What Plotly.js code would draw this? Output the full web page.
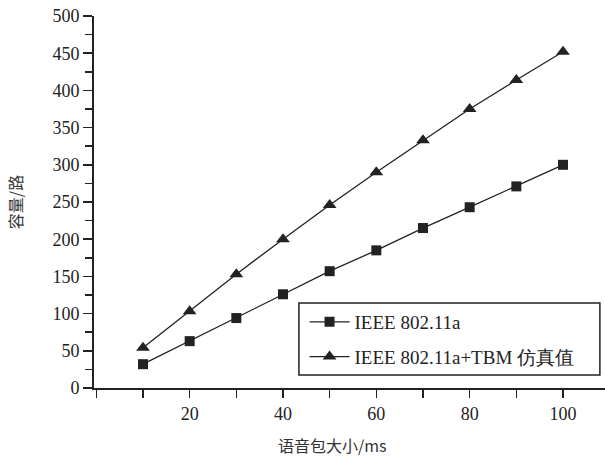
<!DOCTYPE html>
<html><head><meta charset="utf-8">
<script src="https://cdn.plot.ly/plotly-3.0.1.min.js"></script>
<style>html,body{margin:0;padding:0;background:#fff;}</style>
</head><body>
<div id="chart" style="width:605px;height:456px;"></div>
<script>
const packetSize = [10, 20, 30, 40, 50, 60, 70, 80, 90, 100];
const ieee80211a = [32, 63, 94, 126, 157, 185, 215, 243, 271, 300];
const ieeeTbmSim = [54, 103, 153, 200, 246, 290, 333, 375, 414, 452];
const xTickVals = [20, 40, 60, 80, 100];
const seriesNames = ['IEEE 802.11a', 'IEEE 802.11a+TBM 仿真值'];
const xTitle = '语音包大小/ms';
const yTitle = '容量/路';

const ink = '#222';
const serif = 'Liberation Serif';
const cjk = 'Noto Sans CJK SC';

const traces = [
  {x: packetSize, y: ieee80211a, name: seriesNames[0], mode: 'lines+markers', legendgroup: 'a',
   line: {color: ink, width: 1.3}, marker: {symbol: 'square', size: 10, color: ink}},
  {x: packetSize, y: ieeeTbmSim, name: seriesNames[1], mode: 'lines+markers', legendgroup: 'b',
   line: {color: ink, width: 1.3}, marker: {symbol: 'triangle-up', size: 12, color: ink}}
];

const layout = {
  width: 605, height: 456,
  margin: {l: 94, r: 0, t: 16, b: 68},
  paper_bgcolor: '#fff', plot_bgcolor: '#fff',
  showlegend: true,
  font: {family: serif, color: ink},
  xaxis: {
    range: [-0.5, 109], tickvals: xTickVals,
    showgrid: false, zeroline: false, showline: true, linecolor: ink, linewidth: 2,
    ticks: 'outside', ticklen: 8, tickwidth: 1.5, tickcolor: ink,
    minor: {dtick: 10, tick0: 0, ticks: 'outside', ticklen: 8, tickwidth: 1.5, tickcolor: ink, showgrid: false},
    tickfont: {family: serif, size: 18, color: ink},
    fixedrange: true
  },
  yaxis: {
    range: [0, 500], dtick: 50, tick0: 0,
    showgrid: false, zeroline: false, showline: true, linecolor: ink, linewidth: 2,
    ticks: 'outside', ticklen: 9, tickwidth: 1.5, tickcolor: ink,
    minor: {dtick: 25, ticks: 'outside', ticklen: 7, tickwidth: 1.5, tickcolor: ink, showgrid: false},
    tickfont: {family: serif, size: 18, color: ink},
    title: {text: yTitle, font: {family: cjk, size: 16, color: '#333'}, standoff: 26},
    fixedrange: true
  },
  legend: {
    x: 0.412, y: 0.2285, xanchor: 'left', yanchor: 'top',
    bgcolor: 'rgba(0,0,0,0)', borderwidth: 0,
    font: {family: serif, size: 19, color: ink},
    traceorder: 'grouped', tracegroupgap: 7, itemwidth: 40
  },
  shapes: [{
    type: 'rect', xref: 'paper', yref: 'paper', layer: 'below',
    x0: 0.401, x1: 0.990, y0: 0.0349, y1: 0.2285,
    line: {color: ink, width: 1.5}, fillcolor: '#fff'
  }],
  annotations: [{
    text: xTitle, xref: 'paper', yref: 'paper', x: 0.466, y: 0, yshift: -57,
    xanchor: 'center', yanchor: 'middle', showarrow: false,
    font: {family: cjk, size: 16, color: '#333'}
  }]
};

Plotly.newPlot('chart', traces, layout, {displayModeBar: false, staticPlot: true});
</script>
</body></html>
